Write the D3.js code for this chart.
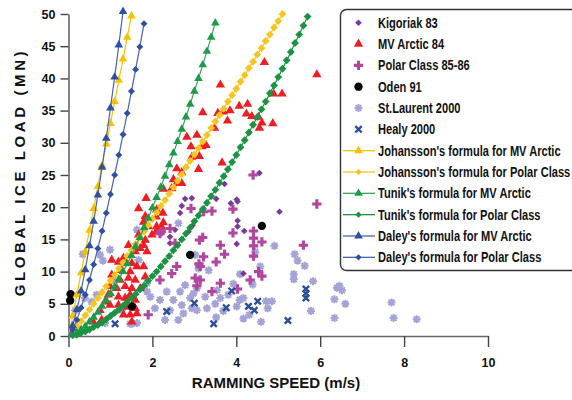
<!DOCTYPE html>
<html>
<head>
<meta charset="utf-8">
<script src="https://cdn.jsdelivr.net/npm/d3@7"></script>
<style>
  body { margin: 0; background: #fff; }
  svg text { font-family: "Liberation Sans", Arial, sans-serif; font-weight: bold; fill: #111; }
</style>
</head>
<body>
<div id="chart"></div>
<script>
// ---- data (speed m/s, load MN) ----
const kigoriak83 = [[3.72,23.6],[4.55,25.3],[2.94,21.4],[3.52,21.3],[4.01,21.2],[3.87,20.6],[4.03,20.9],[3.22,19.8],
  [5.03,19.3],[2.96,17.2],[4.03,17.9],[4.03,17.0],[4.19,16.3],[4.01,14.3],[4.17,9.7],[2.78,21.3],[2.70,20.2],
  [2.66,19.1],[2.54,16.5],[2.42,15.4],[2.42,14.4],[2.86,16.2]];

const mvArctic84 = [[5.92,40.6],[4.67,42.5],[3.62,39.0],[4.89,37.6],[5.09,37.6],[3.20,34.7],[3.56,34.6],[3.69,34.8],
  [3.85,35.0],[4.07,35.7],[4.27,36.0],[4.24,34.5],[3.79,33.4],[4.37,34.1],[4.53,34.0],[4.61,33.1],[4.55,32.3],
  [4.87,33.0],[3.48,32.3],[3.06,31.2],[2.82,30.9],[3.28,29.6],[3.18,29.4],[2.92,29.4],[3.12,27.9],[2.94,27.8],
  [3.66,26.9],[3.10,25.9],[2.58,26.0],[2.70,25.4],[2.50,24.3],[2.58,23.7],[2.70,23.7],[2.46,22.9],[2.26,22.8],
  [1.85,21.4],[1.67,19.8],[2.10,19.6],[2.25,19.1],[2.09,18.5],[1.83,18.6],[2.26,17.6],[1.90,17.0],[2.10,17.0],
  [2.22,16.9],[1.79,17.7],[2.09,16.2],[1.67,15.7],[1.83,14.9],[1.99,15.7],[1.79,14.1],[1.43,14.1],[1.59,13.1],
  [1.71,13.6],[1.87,13.1],[1.31,12.1],[1.03,11.8],[1.19,11.5],[1.51,11.3],[1.63,10.8],[1.79,10.8],[1.27,10.2],
  [1.47,10.0],[1.03,9.5],[1.23,8.7],[1.43,9.0],[1.59,8.7],[1.83,9.2],[0.99,7.7],[1.15,7.4],[1.35,7.7],[1.51,7.4],
  [1.71,7.4],[0.95,6.4],[1.19,6.1],[1.35,5.9],[1.47,6.4],[1.59,5.6],[0.99,4.8],[1.19,4.8],[1.39,4.5],[1.59,4.3],
  [1.47,3.3],[1.63,3.5],[1.31,3.3],[0.75,4.0],[0.79,2.5],[0.59,2.2],[0.87,5.3],[1.51,2.2]];

const polarClass8586 = [[5.92,20.5],[3.92,19.7],[3.22,19.3],[3.42,19.4],[3.92,16.0],[4.41,16.3],[4.41,15.2],[4.61,14.6],
  [4.41,14.0],[4.41,12.4],[3.62,14.1],[3.72,12.7],[3.12,14.9],[3.20,15.3],[5.60,14.1],[3.52,11.5],[3.11,11.2],
  [4.53,10.0],[4.61,9.3],[4.33,8.7],[3.02,9.0],[3.14,8.7],[3.06,7.8],[3.42,6.9],[3.62,8.2],[4.03,7.3],[4.40,25.0],
  [2.42,16.7],[2.18,8.7],[3.22,12.3],[3.14,10.8],[2.58,10.8],[2.46,9.7],[1.90,3.3],[2.18,15.9],[2.54,14.4],
  [2.92,19.8],[2.21,16.2]];

const oden91 = [[0.05,6.5],[0.04,5.5],[1.51,4.6],[2.90,12.6],[4.61,17.1]];

const stLaurent2000 = [[4.91,14.0],[5.39,12.7],[5.46,11.7],[5.63,10.9],[5.37,9.6],[5.37,8.8],[5.83,8.5],[6.46,7.8],
  [6.52,7.1],[6.40,7.5],[6.34,5.7],[6.60,5.0],[5.78,3.9],[6.34,2.8],[4.59,2.2],[4.17,2.7],[4.31,3.3],[4.75,4.3],
  [4.71,5.4],[4.85,5.4],[4.57,10.8],[4.45,13.1],[4.39,8.0],[4.09,9.6],[3.93,8.1],[4.08,5.6],[4.17,5.9],[3.81,6.4],
  [3.62,5.9],[3.50,5.0],[3.30,4.3],[3.06,4.0],[3.52,2.9],[3.69,3.9],[4.01,4.6],[3.06,7.4],[3.34,10.2],[3.10,10.5],
  [3.02,12.6],[3.26,6.1],[2.90,5.9],[3.54,7.1],[7.70,5.2],[7.75,2.8],[8.30,2.6],
  [0.34,12.7],[0.99,13.4],[0.82,11.7],[0.75,12.6],[1.63,16.5],[1.67,11.8],[1.51,1.9],[1.63,2.0],[2.62,17.5],
  [1.07,8.7],[2.06,4.3],[2.18,5.6],[2.34,6.9],[2.50,5.6],[2.70,4.8],[2.94,4.3],[2.66,6.9],[2.78,7.9],[1.87,6.9],
  [1.95,6.1],[2.42,4.0],[2.30,2.5],[2.62,2.5],[2.74,3.5],[2.98,6.6],[1.27,4.0],[0.67,6.4],[0.55,5.3],[1.39,5.6],
  [1.87,8.2],[0.39,5.9],[0.16,4.0],[0.87,2.0],[1.47,1.9]];

const healy2000 = [[1.11,1.9],[2.34,3.8],[3.00,5.1],[3.46,1.9],[3.76,4.4],[3.89,7.0],[4.29,4.6],[4.43,4.0],[4.51,5.4],
  [5.23,2.4],[5.66,7.3],[5.66,6.6],[5.66,5.9]];

// formula curves: load values at speedSteps[0..n]
const speedSteps = [0,0.1,0.2,0.3,0.4,0.5,0.6,0.7,0.8,0.9,1.0,1.1,1.2,1.3,1.4,1.5,1.6,1.7,1.8,1.9,2.0,2.1,2.2,2.3,
  2.4,2.5,2.6,2.7,2.8,2.9,3.0,3.1,3.2,3.3,3.4,3.5,3.6,3.7,3.8,3.9,4.0,4.1,4.2,4.3,4.4,4.5,4.6,4.7,4.8,4.9,5.0,
  5.1,5.2,5.3,5.4,5.5,5.6,5.7];
const johanssonMvF = [0,3.1,6.4,9.8,13.1,16.4,19.8,23.2,26.5,29.8,33.0,36.4,39.7,43.0,46.4,49.7];
const johanssonPolarF = [0,0.7,1.5,2.3,3.2,4.1,5.0,5.9,6.8,7.7,8.6,9.5,10.5,11.4,12.4,13.3,14.3,15.3,16.2,17.2,
  18.2,19.2,20.2,21.1,22.1,23.1,24.1,25.1,26.2,27.2,28.2,29.2,30.2,31.2,32.3,33.3,34.3,35.3,36.4,37.4,38.4,39.5,
  40.5,41.6,42.6,43.7,44.7,45.8,46.8,47.9,48.9,50.0];
const tunikMvF = [0,0.2,0.5,1.0,1.5,2.2,2.9,3.7,4.6,5.5,6.6,7.6,8.8,10.0,11.2,12.5,13.9,15.3,16.8,18.3,19.9,21.5,
  23.1,24.8,26.6,28.4,30.2,32.1,34.0,36.0,38.0,40.0,42.1,44.2,46.4,48.6];
const tunikPolarF = [0,0.1,0.2,0.5,0.7,1.0,1.4,1.7,2.1,2.6,3.1,3.6,4.1,4.7,5.2,5.9,6.5,7.2,7.8,8.6,9.3,10.0,10.8,
  11.6,12.4,13.3,14.1,15.0,15.9,16.8,17.8,18.7,19.7,20.7,21.7,22.7,23.8,24.8,25.9,27.0,28.1,29.3,30.4,31.6,32.8,
  34.0,35.2,36.4,37.7,38.9,40.2,41.5,42.8,44.1,45.5,46.8,48.2,49.6];
const daleyMvF = [0,1.6,4.1,7.0,10.3,14.0,17.8,21.9,26.2,30.7,35.4,40.2,45.2,50.4];
const daleyPolarF = [0,1.0,2.5,4.4,6.4,8.7,11.1,13.6,16.3,19.1,22.0,25.0,28.1,31.3,34.6,38.0,41.4,44.9,48.5];

const xTicks = [0,2,4,6,8,10];
const yTicks = [0,5,10,15,20,25,30,35,40,45,50];

// ---- marker shapes ----
const diamond = { draw(ctx, size) { const r = Math.sqrt(size) / 2; ctx.moveTo(0,-r); ctx.lineTo(r,0); ctx.lineTo(0,r); ctx.lineTo(-r,0); ctx.closePath(); } };
const star8 = { draw(ctx, size) { const r = Math.sqrt(size) / 2; const d = r * 0.72;
  ctx.moveTo(-r,0); ctx.lineTo(r,0); ctx.moveTo(0,-r); ctx.lineTo(0,r);
  ctx.moveTo(-d,-d); ctx.lineTo(d,d); ctx.moveTo(-d,d); ctx.lineTo(d,-d); } };
const cross = { draw(ctx, size) { const r = Math.sqrt(size) / 2;
  ctx.moveTo(-r,-r); ctx.lineTo(r,r); ctx.moveTo(-r,r); ctx.lineTo(r,-r); } };

const scatterSeries = [
  { name: 'St.Laurent 2000', data: stLaurent2000, type: star8, size: 64, fill: 'none', stroke: '#a3a3d6', sw: 2 },
  { name: 'Kigoriak 83', data: kigoriak83, type: diamond, size: 44, fill: '#7a3b98', stroke: 'none' },
  { name: 'MV Arctic 84', data: mvArctic84, type: d3.symbolTriangle, size: 38, fill: '#ee1d23', stroke: 'none' },
  { name: 'Polar Class 85-86', data: polarClass8586, type: d3.symbolCross, size: 48, fill: '#b0469e', stroke: 'none' },
  { name: 'Oden 91', data: oden91, type: d3.symbolCircle, size: 55, fill: '#000', stroke: 'none' },
  { name: 'Healy 2000', data: healy2000, type: cross, size: 40, fill: 'none', stroke: '#2c4c9c', sw: 2.4 }
];
const legendOrder = ['Kigoriak 83','MV Arctic 84','Polar Class 85-86','Oden 91','St.Laurent 2000','Healy 2000'];

const formulaSeries = [
  { name: "Johansson's formula for MV Arctic", vals: johanssonMvF, type: d3.symbolTriangle, size: 32, color: '#f6c200', line: '#f6c200' },
  { name: "Johansson's formula for Polar Class", vals: johanssonPolarF, type: diamond, size: 62, color: '#f7c51e', line: '#f7c51e' },
  { name: "Tunik's formula for MV Arctic", vals: tunikMvF, type: d3.symbolTriangle, size: 32, color: '#1f9a48', line: '#3aa35c' },
  { name: "Tunik's formula for Polar Class", vals: tunikPolarF, type: diamond, size: 62, color: '#1a9443', line: '#1a9443' },
  { name: "Daley's formula for MV Arctic", vals: daleyMvF, type: d3.symbolTriangle, size: 32, color: '#2f4f9f', line: '#4664b0' },
  { name: "Daley's formula for Polar Class", vals: daleyPolarF, type: diamond, size: 48, color: '#2f4f9f', line: '#4664b0' }
];

// ---- chart ----
const width = 572, height = 400;
const svg = d3.select('#chart').append('svg').attr('width', width).attr('height', height);

const x = d3.scaleLinear().domain([0, 10]).range([68.5, 488]);
const y = d3.scaleLinear().domain([0, 50]).range([336, 14]);

// axes
const xAxis = svg.append('g')
  .attr('transform', `translate(0,${y(0)})`)
  .call(d3.axisBottom(x).tickValues(xTicks).tickSize(11).tickSizeOuter(0).tickPadding(11));
const yAxis = svg.append('g')
  .attr('transform', `translate(${x(0)},0)`)
  .call(d3.axisLeft(y).tickValues(yTicks).tickSize(8).tickSizeOuter(0).tickPadding(5));
[xAxis, yAxis].forEach(g => {
  g.select('.domain').attr('stroke', '#666').attr('stroke-width', 1.6);
  g.selectAll('.tick line').attr('stroke', '#444').attr('stroke-width', 1.4);
  g.selectAll('.tick text').attr('fill', '#111').style('font-size', '12.5px').style('font-weight', 'bold');
});

svg.append('text')
  .attr('x', 276).attr('y', 388)
  .attr('text-anchor', 'middle')
  .style('font-size', '15px')
  .text('RAMMING SPEED (m/s)');

svg.append('text')
  .attr('transform', 'translate(25,172) rotate(-90)')
  .attr('text-anchor', 'middle')
  .style('font-size', '15px')
  .style('letter-spacing', '3.6px')
  .text('GLOBAL ICE LOAD (MN)');

// scatter points
const plot = svg.append('g');
scatterSeries.forEach(s => {
  const sym = d3.symbol().type(s.type).size(s.size);
  plot.append('g').selectAll('path')
    .data(s.data)
    .enter()
    .append('path')
    .attr('d', sym)
    .attr('transform', d => `translate(${x(d[0])},${y(d[1])})`)
    .attr('fill', s.fill)
    .attr('stroke', s.stroke)
    .attr('stroke-width', s.sw || 0);
});

// formula curves
const line = d3.line().x(d => x(d[0])).y(d => y(d[1]));
formulaSeries.forEach(s => {
  const pts = s.vals.map((f, i) => [speedSteps[i], f]);
  const g = plot.append('g');
  g.append('path')
    .attr('d', line(pts))
    .attr('fill', 'none')
    .attr('stroke', s.line)
    .attr('stroke-width', 1.2);
  g.selectAll('path.m')
    .data(pts.slice(1))
    .enter()
    .append('path')
    .attr('class', 'm')
    .attr('d', d3.symbol().type(s.type).size(s.size))
    .attr('transform', d => `translate(${x(d[0])},${y(d[1])})`)
    .attr('fill', s.color);
});

// legend
const legend = svg.append('g').attr('class', 'legend');
legend.append('rect')
  .attr('x', 340.5).attr('y', 9.5)
  .attr('width', 250).attr('height', 261)
  .attr('rx', 6)
  .attr('fill', '#fff')
  .attr('stroke', '#333')
  .attr('stroke-width', 1.4);

const rowY = i => 22.7 + i * 21.33;
// narrow bold face: squeeze the text horizontally
const legendText = (i, label) => legend.append('text')
  .attr('transform', `translate(378,${rowY(i) + 5}) scale(0.765,1)`)
  .style('font-size', '14.5px')
  .text(label);

legendOrder.forEach((name, i) => {
  const s = scatterSeries.find(d => d.name === name);
  legend.append('path')
    .attr('d', d3.symbol().type(s.type).size(s.size)())
    .attr('transform', `translate(358.5,${rowY(i)})`)
    .attr('fill', s.fill)
    .attr('stroke', s.stroke)
    .attr('stroke-width', s.sw || 0);
  legendText(i, name);
});
formulaSeries.forEach((s, j) => {
  const i = j + 6;
  legend.append('line')
    .attr('x1', 343).attr('x2', 375)
    .attr('y1', rowY(i)).attr('y2', rowY(i))
    .attr('stroke', s.line).attr('stroke-width', 1.3);
  legend.append('path')
    .attr('d', d3.symbol().type(s.type).size(s.type === diamond ? 40 : 32)())
    .attr('transform', `translate(358.5,${rowY(i)})`)
    .attr('fill', s.color);
  legendText(i, s.name);
});
</script>
</body>
</html>
